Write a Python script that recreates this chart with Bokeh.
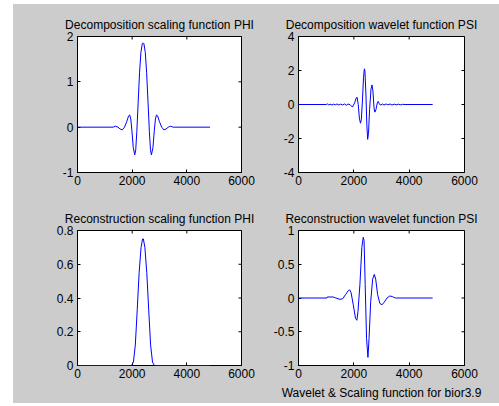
from bokeh.plotting import figure
from bokeh.models import Range1d, FixedTicker, LinearAxis, Title, Spacer
from bokeh.layouts import row, column
from bokeh.embed import file_html
from bokeh.resources import INLINE

# ---- data ----
dec_phi_x = [0, 1300, 1390, 1480, 1560, 1640, 1720, 1800, 1870, 1910, 1950, 1990, 2040, 2095, 2130,
             2170, 2220, 2270, 2320, 2370, 2400, 2430, 2480, 2530, 2580, 2630, 2670, 2705, 2760,
             2810, 2850, 2890, 2930, 3000, 3080, 3160, 3240, 3320, 3410, 3500, 4850]
dec_phi_y = [0, 0, 0.02, 0.0, -0.04, -0.06, 0.0, 0.12, 0.25, 0.27, 0.18, -0.08, -0.45, -0.61, -0.5,
             -0.1, 0.55, 1.2, 1.65, 1.84, 1.86, 1.84, 1.65, 1.2, 0.55, -0.1, -0.5, -0.61, -0.45,
             -0.08, 0.18, 0.27, 0.25, 0.12, 0.0, -0.06, -0.04, 0.0, 0.02, 0, 0]

dec_psi_x = [0, 1000, 1050, 1090, 1140, 1210, 1260, 1330, 1390, 1460, 1520, 1600, 1660, 1730, 1790,
             1870, 1950, 2030, 2090, 2120, 2160, 2200, 2240, 2270, 2310, 2350, 2380, 2400, 2440,
             2470, 2500, 2530, 2570, 2620, 2655, 2690, 2730, 2760, 2800, 2850, 2880, 2920, 2960,
             3030, 3090, 3170, 3230, 3310, 3380, 3460, 3530, 3610, 3680, 3760, 3850, 4850]
dec_psi_y = [0, 0, 0.03, -0.02, 0.02, -0.03, 0.02, -0.02, 0.03, -0.03, 0.02, -0.03, 0.03, -0.04, 0.03,
             -0.02, -0.15, 0.1, 0.4, 0.42, 0.0, -0.8, -1.1, -0.9, 0.2, 1.6, 2.1, 2.0, 0.5,
             -1.2, -2.05, -1.7, -0.3, 0.9, 1.15, 0.8, -0.2, -0.45, -0.3, 0.1, 0.18, 0.05, -0.04,
             0.03, -0.03, 0.03, -0.02, 0.03, -0.03, 0.02, -0.02, 0.02, -0.02, 0.01, 0, 0]

rec_phi_x = [0, 1975, 2045, 2115, 2185, 2255, 2325, 2380, 2410, 2465, 2535, 2605, 2675, 2745, 2815, 4850]
rec_phi_y = [0, 0, 0.02, 0.12, 0.33, 0.55, 0.7, 0.75, 0.75, 0.7, 0.55, 0.33, 0.12, 0.02, 0, 0]

rec_psi_x = [0, 1030, 1040, 1250, 1350, 1500, 1600, 1700, 1800, 1850, 1900, 1980, 2060, 2110, 2150,
             2220, 2290, 2340, 2370, 2410, 2460, 2510, 2550, 2610, 2680, 2740, 2790, 2860, 2940,
             3020, 3100, 3200, 3300, 3400, 3500, 4850]
rec_psi_y = [0, 0, 0.015, 0.015, 0.0, -0.02, -0.01, 0.05, 0.11, 0.12, 0.08, -0.1, -0.3, -0.33, -0.2,
             0.2, 0.75, 0.9, 0.85, 0.2, -0.6, -0.88, -0.6, -0.05, 0.28, 0.35, 0.28, 0.05, -0.08,
             -0.1, -0.06, 0.0, 0.03, 0.02, 0, 0]

titles = ["Decomposition scaling function PHI", "Decomposition wavelet function PSI",
          "Reconstruction scaling function PHI", "Reconstruction wavelet function PSI"]
x_ticks = [0, 2000, 4000, 6000]
x_tick_labels = ["0", "2000", "4000", "6000"]
y_ticks_list = [[-1, 0, 1, 2], [-4, -2, 0, 2, 4], [0, 0.2, 0.4, 0.6, 0.8], [-1, -0.5, 0, 0.5, 1]]
y_tick_labels_list = [["-1", "0", "1", "2"], ["-4", "-2", "0", "2", "4"],
                      ["0", "0.2", "0.4", "0.6", "0.8"], ["-1", "-0.5", "0", "0.5", "1"]]
y_ranges = [(-1, 2), (-4, 4), (0, 0.8), (-1, 1)]
x_range = (0, 6000)
footer = "Wavelet & Scaling function for bior3.9"

GRAY = "#cccccc"
FONT = "Liberation Sans"
FS = "12px"

def style_axis(ax, ticks, labels):
    ax.ticker = FixedTicker(ticks=ticks)
    ax.major_label_overrides = {t: l for t, l in zip(ticks, labels)}
    ax.major_tick_in = 3
    ax.major_tick_out = 0
    ax.minor_tick_in = 0
    ax.minor_tick_out = 0
    ax.axis_line_color = "black"
    ax.major_tick_line_color = "black"
    ax.major_label_text_font = FONT
    ax.major_label_text_font_size = FS
    ax.major_label_text_color = "black"
    ax.major_label_standoff = 4

def make(i, xs, ys, width, height, bl, br, bt, bb, xlabel=None):
    y0, y1 = y_ranges[i]
    p = figure(width=width, height=height, output_backend="svg", toolbar_location=None,
               x_range=Range1d(*x_range), y_range=Range1d(y0, y1),
               min_border_left=bl, min_border_right=br, min_border_top=bt, min_border_bottom=bb,
               x_axis_location=None, y_axis_location=None)
    p.border_fill_color = GRAY
    p.background_fill_color = "white"
    p.outline_line_color = "black"
    p.xgrid.visible = False
    p.ygrid.visible = False
    yt, yl = y_ticks_list[i], y_tick_labels_list[i]
    bx = LinearAxis(); style_axis(bx, x_ticks, x_tick_labels)
    bx.major_label_standoff = 3
    if xlabel:
        bx.axis_label = xlabel
        bx.axis_label_text_font = FONT
        bx.axis_label_text_font_size = FS
        bx.axis_label_text_font_style = "normal"
        bx.axis_label_text_color = "black"
        bx.axis_label_standoff = 5
    ly = LinearAxis(); style_axis(ly, yt, yl)
    p.add_layout(bx, "below")
    p.add_layout(ly, "left")
    p.add_layout(Title(text=titles[i], align="center", text_font=FONT, text_font_size=FS,
                       text_font_style="normal", text_color="black", standoff=10), "above")
    # inward tick marks on the top and right edges (clipped to the frame, half shows)
    p.scatter(x=[x_range[1]] * len(yt), y=yt, marker="dash", size=6, line_color="black", line_width=1)
    p.scatter(x=x_ticks, y=[y1] * len(x_ticks), marker="dash", angle=1.5708, size=6,
              line_color="black", line_width=1)
    r = p.line(xs, ys, line_color="blue", line_width=1)
    r.level = "overlay"
    return p

p1 = make(0, dec_phi_x, dec_phi_y, 257, 196, 64, 29, 32, 28)
p2 = make(1, dec_psi_x, dec_psi_y, 229, 196, 28, 35, 32, 28)
p3 = make(2, rec_phi_x, rec_phi_y, 257, 203, 64, 29, 30, 38)
p4 = make(3, rec_psi_x, rec_psi_y, 229, 203, 28, 35, 30, 38, xlabel=footer)

bg = {"background-color": GRAY}
grid = column(row(p1, p2, styles=bg), row(p3, p4, styles=bg), styles=bg)
layout = column(Spacer(width=499, height=4), row(Spacer(width=13, height=399), grid))

open("out.html", "w").write(file_html(layout, INLINE))
